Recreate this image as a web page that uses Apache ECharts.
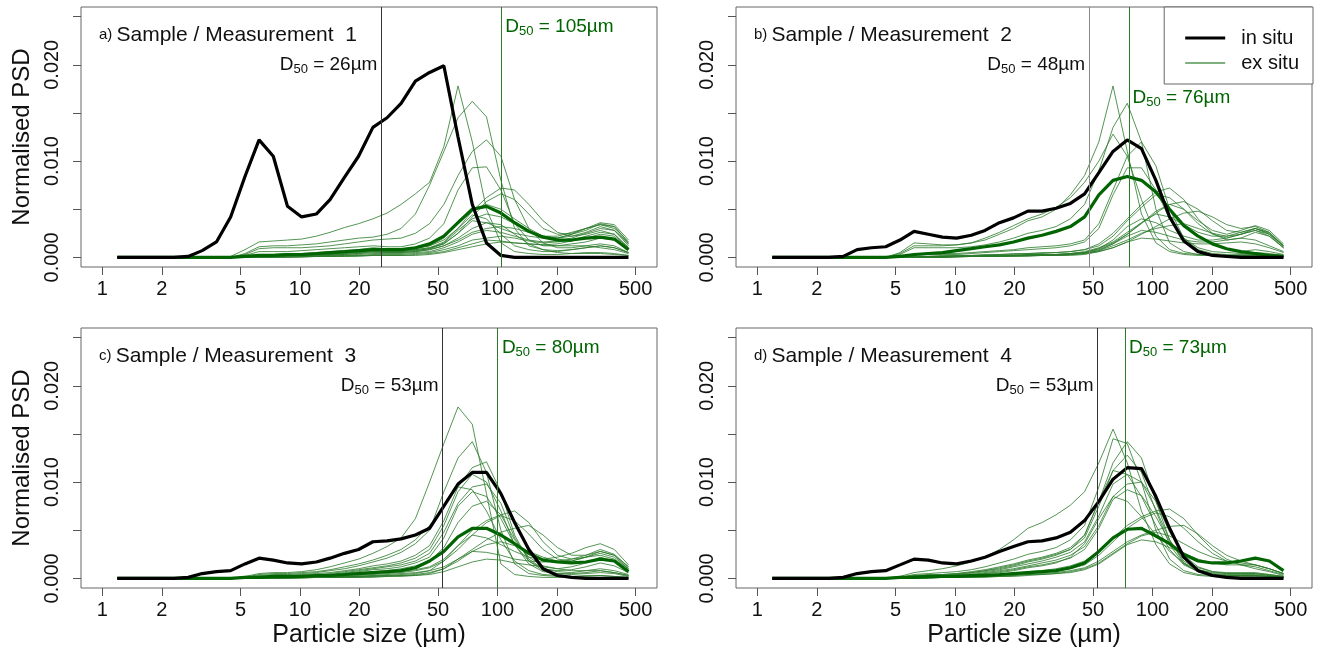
<!DOCTYPE html>
<html>
<head>
<meta charset="utf-8">
<title>Normalised PSD - in situ vs ex situ</title>
<script src="https://cdn.jsdelivr.net/npm/echarts@6.0.0/dist/echarts.min.js"></script>
<style>
  html, body { margin: 0; padding: 0; background: #fff; }
  #chart { width: 1319px; height: 652px; }
</style>
</head>
<body>
<div id="chart"></div>
<script>
// particle size bins (µm), log spaced
const sizes = [1.19, 1.40, 1.65, 1.95, 2.30, 2.72, 3.20, 3.78, 4.46, 5.27, 6.21, 7.33, 8.65, 10.2, 12.1, 14.2, 16.8, 19.8, 23.4,
  27.6, 32.5, 38.4, 45.3, 53.5, 63.1, 74.5, 87.9, 104, 122, 144, 170, 201, 237, 280, 331, 390, 460];

const xTicks = [1, 2, 5, 10, 20, 50, 100, 200, 500];
const yTicks = [0, 0.005, 0.01, 0.015, 0.02, 0.025];
const yLabels = [0, 0.01, 0.02];

// PSD values below are in units of 1e-4
const inSituA = [0,0,0,0,0,1,7,16,42,84,122,105,53,42,45,60,83,105,135,145,160,183,192,199,125,55,15,2,0,0,0,0,0,0,0,0,0];
const meanA = [0,0,0,0,0,0,0,0,0,1,2,2,3,3,4,5,6,7,8,8,8,10,14,22,36,50,53,46,36,27,21,18,18,20,21,19,8];
const exSituA = [
  [0,0,0,0,0,0,0,0,1,8,16,17,18,19,22,26,31,35,40,46,55,66,78,115,178,120,50,15,6,4,3,3,4,5,5,4,2],
  [0,0,0,0,0,0,0,0,0,4,11,12,12,13,14,16,18,20,21,24,30,45,75,110,145,162,146,80,30,12,8,7,8,10,12,10,5],
  [0,0,0,0,0,0,0,0,0,3,9,10,10,10,11,12,14,16,18,19,20,25,35,55,85,110,122,105,60,30,15,10,10,12,14,12,5],
  [0,0,0,0,0,0,0,0,0,2,6,6,6,7,8,9,10,11,12,11,11,14,20,35,70,93,94,70,35,18,12,12,14,16,20,18,8],
  [0,0,0,0,0,0,0,0,0,1,3,3,4,4,5,6,7,8,10,9,9,10,12,18,30,48,62,72,70,55,38,26,22,24,28,24,10],
  [0,0,0,0,0,0,0,0,0,1,2,2,3,3,4,4,5,6,8,7,7,8,10,14,25,42,58,66,60,45,30,24,25,30,34,30,14],
  [0,0,0,0,0,0,0,0,0,0,1,2,2,3,3,4,5,6,9,8,8,9,12,20,38,50,55,50,40,30,22,20,22,26,32,28,12],
  [0,0,0,0,0,0,0,0,0,0,1,1,2,2,3,3,4,5,7,6,6,7,9,15,28,40,45,42,35,28,22,20,24,28,35,32,15],
  [0,0,0,0,0,0,0,0,0,0,1,1,1,2,2,3,4,5,6,6,6,7,9,14,25,38,36,30,25,22,20,20,24,30,36,34,18],
  [0,0,0,0,0,0,0,0,0,0,0,1,1,1,2,2,3,4,5,5,5,6,8,12,18,26,30,32,30,26,22,22,26,30,34,32,16],
  [0,0,0,0,0,0,0,0,0,0,0,1,1,1,1,2,2,3,4,4,4,5,6,10,16,24,28,26,22,18,16,17,20,25,30,28,14],
  [0,0,0,0,0,0,0,0,0,0,0,0,1,1,1,1,2,2,3,3,3,4,5,8,12,18,20,22,20,17,15,16,18,22,26,24,10],
  [0,0,0,0,0,0,0,0,0,0,0,0,0,1,1,1,1,2,2,2,2,3,4,6,10,14,18,17,15,14,13,14,17,20,24,22,10],
  [0,0,0,0,0,0,0,0,0,0,0,0,0,0,1,1,1,1,2,2,2,2,3,5,8,11,14,16,15,14,13,12,12,12,10,8,4],
  [0,0,0,0,0,0,0,0,0,0,0,1,1,2,2,3,3,4,6,5,5,6,8,12,20,30,36,34,24,14,8,5,4,4,4,3,2],
  [0,0,0,0,0,0,0,0,0,0,1,1,2,2,3,4,5,6,8,7,7,8,10,16,30,44,40,24,12,8,6,6,8,10,12,10,5]
];

const inSituB = [0,0,0,0,0,1,8,10,11,18,27,24,21,20,23,28,36,41,48,48,51,56,66,88,110,122,113,80,42,17,6,2,1,0,0,0,0];
const meanB = [0,0,0,0,0,0,0,0,0,1,3,4,5,7,9,11,13,16,20,23,27,32,42,65,80,84,80,68,50,33,22,14,9,6,4,2,1];
const exSituB = [
  [0,0,0,0,0,0,0,0,0,5,15,14,13,13,15,18,24,30,38,42,50,65,85,120,178,110,45,15,6,3,2,2,2,2,2,1,1],
  [0,0,0,0,0,0,0,0,0,3,10,10,10,10,11,13,16,20,25,28,32,40,55,90,135,160,120,50,15,6,3,2,2,3,3,2,1],
  [0,0,0,0,0,0,0,0,0,1,3,4,4,4,5,6,7,8,10,11,12,14,18,35,70,105,120,95,50,20,8,4,3,4,5,4,2],
  [0,0,0,0,0,0,0,0,0,1,2,3,3,3,4,5,6,7,8,9,10,12,16,30,65,93,93,70,40,20,10,6,5,6,8,6,3],
  [0,0,0,0,0,0,0,0,0,0,1,1,2,2,2,3,3,4,4,5,5,6,8,14,25,40,55,68,72,60,40,25,18,20,26,22,10],
  [0,0,0,0,0,0,0,0,0,0,1,1,1,2,2,2,3,3,4,4,5,6,8,12,22,38,52,65,62,50,35,24,20,24,30,26,12],
  [0,0,0,0,0,0,0,0,0,0,0,1,1,1,1,2,2,2,3,3,3,4,6,10,16,26,36,46,55,58,50,38,28,26,30,25,12],
  [0,0,0,0,0,0,0,0,0,0,0,1,1,1,1,2,2,2,3,3,3,4,5,9,15,24,35,48,55,50,38,28,24,28,33,28,14],
  [0,0,0,0,0,0,0,0,0,0,0,0,1,1,1,1,2,2,2,3,3,4,5,8,14,24,36,45,42,34,26,22,22,26,30,24,10],
  [0,0,0,0,0,0,0,0,0,0,0,0,1,1,1,1,2,2,2,2,3,3,5,9,18,32,40,36,28,22,18,18,20,24,28,22,10],
  [0,0,0,0,0,0,0,0,0,0,0,0,0,1,1,1,1,2,2,2,2,3,4,7,12,18,25,30,33,35,30,25,22,24,28,24,12],
  [0,0,0,0,0,0,0,0,0,0,0,0,0,1,1,1,1,1,2,2,2,3,4,7,14,22,28,26,22,18,16,16,18,20,18,12,6],
  [0,0,0,0,0,0,0,0,0,0,0,0,0,0,1,1,1,1,1,2,2,2,3,6,10,16,20,19,17,15,14,14,15,16,14,10,5],
  [0,0,0,0,0,0,0,0,0,0,0,0,0,1,1,1,1,2,2,2,2,3,4,6,10,16,24,32,40,46,48,42,34,30,32,26,12],
  [0,0,0,0,0,0,0,0,0,4,12,12,12,13,15,20,26,33,40,45,52,62,78,100,128,105,60,22,8,4,3,2,2,2,2,1,1]
];

const inSituC = [0,0,0,0,0,1,5,7,8,15,21,19,16,15,17,21,26,30,38,39,41,45,52,75,98,110,110,88,58,30,10,3,1,0,0,0,0];
const meanC = [0,0,0,0,0,0,0,0,0,1,1,2,2,2,3,3,4,5,6,7,8,11,18,28,43,52,52,45,36,26,19,17,16,17,20,18,7];
const exSituC = [
  [0,0,0,0,0,0,0,0,0,2,5,6,6,7,9,12,16,20,26,33,42,62,100,140,178,160,88,15,4,2,1,1,1,1,1,1,0],
  [0,0,0,0,0,0,0,0,0,1,3,4,4,5,6,8,10,13,17,21,27,36,50,90,125,142,110,50,15,5,3,2,2,2,3,2,1],
  [0,0,0,0,0,0,0,0,0,1,2,3,3,4,5,6,8,10,13,15,18,24,34,60,95,115,121,90,45,18,8,5,4,5,6,5,2],
  [0,0,0,0,0,0,0,0,0,1,2,2,3,3,4,5,7,9,11,13,16,21,30,55,90,108,100,70,35,15,7,5,5,6,8,6,3],
  [0,0,0,0,0,0,0,0,0,0,1,2,2,3,3,4,6,8,10,12,14,18,26,48,78,95,98,78,42,20,10,7,6,8,10,8,4],
  [0,0,0,0,0,0,0,0,0,0,1,1,2,2,3,4,5,7,9,10,12,16,22,42,75,90,85,62,35,18,10,8,9,12,16,13,6],
  [0,0,0,0,0,0,0,0,0,0,1,1,1,2,2,3,4,6,7,8,10,13,18,32,58,75,80,66,40,22,13,10,12,16,22,18,8],
  [0,0,0,0,0,0,0,0,0,0,0,1,1,1,2,2,3,4,5,6,7,9,12,20,34,50,60,66,70,58,38,24,20,24,30,25,12],
  [0,0,0,0,0,0,0,0,0,0,0,1,1,1,1,2,2,3,4,5,6,8,11,18,30,45,58,65,60,46,30,20,18,22,28,24,10],
  [0,0,0,0,0,0,0,0,0,0,0,0,1,1,1,1,2,2,3,4,5,6,8,12,20,30,40,48,52,55,45,32,24,24,28,24,12],
  [0,0,0,0,0,0,0,0,0,0,0,0,1,1,1,1,2,2,3,3,4,5,8,18,34,45,42,35,28,22,20,22,26,32,36,30,14],
  [0,0,0,0,0,0,0,0,0,0,0,0,0,1,1,1,1,2,2,3,3,4,6,10,18,28,35,38,34,28,22,18,18,22,26,22,10],
  [0,0,0,0,0,0,0,0,0,0,0,0,0,1,1,1,1,1,2,2,3,3,5,10,20,28,27,24,20,18,17,18,20,22,24,20,10],
  [0,0,0,0,0,0,0,0,0,0,0,0,0,0,1,1,1,1,1,2,2,3,4,7,12,17,20,19,16,14,12,10,8,8,8,6,3],
  [0,0,0,0,0,0,0,0,0,1,4,5,5,6,7,9,12,15,19,24,30,40,55,75,95,92,70,40,18,8,4,3,2,3,3,2,1]
];

const inSituD = [0,0,0,0,0,1,5,7,8,14,20,19,16,15,18,22,28,33,38,39,42,48,60,80,103,115,114,85,52,22,8,3,1,0,0,0,0];
const meanD = [0,0,0,0,0,0,0,0,0,1,1,2,2,2,3,3,4,5,6,7,8,11,16,28,42,51,52,44,36,25,18,16,16,18,21,18,8];
const exSituD = [
  [0,0,0,0,0,0,0,0,0,2,6,8,10,13,17,22,30,40,52,58,66,76,90,120,155,120,70,35,15,6,3,2,1,1,1,1,0],
  [0,0,0,0,0,0,0,0,0,1,4,5,6,7,9,12,16,20,25,28,32,40,55,95,145,140,100,50,20,8,4,3,2,2,2,1,1],
  [0,0,0,0,0,0,0,0,0,1,3,4,4,5,7,9,12,15,19,22,26,32,45,80,120,142,125,80,40,16,7,4,3,3,3,2,1],
  [0,0,0,0,0,0,0,0,0,1,3,3,4,5,6,8,11,14,18,21,25,30,42,75,112,128,110,70,35,15,7,4,3,3,3,2,1],
  [0,0,0,0,0,0,0,0,0,1,2,3,3,4,6,8,10,13,17,20,24,30,45,80,112,108,85,55,30,14,7,4,3,3,3,2,1],
  [0,0,0,0,0,0,0,0,0,0,2,2,3,4,5,7,9,12,15,18,22,27,38,65,98,108,100,72,40,18,9,5,4,4,4,3,1],
  [0,0,0,0,0,0,0,0,0,0,1,2,2,3,4,6,8,10,13,16,19,24,33,55,85,98,100,80,48,24,12,7,5,5,5,3,2],
  [0,0,0,0,0,0,0,0,0,0,1,1,2,3,4,5,7,9,12,14,17,21,30,52,82,92,86,64,38,20,11,7,6,6,6,4,2],
  [0,0,0,0,0,0,0,0,0,0,1,1,2,2,3,5,6,8,11,13,16,22,36,62,85,80,64,45,28,16,9,6,5,5,5,4,2],
  [0,0,0,0,0,0,0,0,0,0,1,1,1,2,2,3,4,5,7,8,10,13,18,28,42,55,64,70,72,62,45,30,20,14,10,7,3],
  [0,0,0,0,0,0,0,0,0,0,0,1,1,1,2,2,3,4,5,6,8,10,14,24,38,52,62,68,64,52,38,26,18,14,12,8,4],
  [0,0,0,0,0,0,0,0,0,0,0,1,1,1,1,2,2,3,4,5,6,8,11,18,28,38,45,50,54,55,46,34,24,18,14,10,5],
  [0,0,0,0,0,0,0,0,0,0,0,0,1,1,1,2,2,3,4,4,5,7,10,16,26,36,44,48,44,36,28,22,18,16,14,10,5],
  [0,0,0,0,0,0,0,0,0,0,0,0,1,1,1,1,2,2,3,4,5,6,9,15,25,35,40,38,32,26,20,16,14,14,14,10,5]
];

const panelTags = ['a)', 'b)', 'c)', 'd)'];
const panelTitles = ['Sample / Measurement  1', 'Sample / Measurement  2', 'Sample / Measurement  3', 'Sample / Measurement  4'];
const d50InSitu = [26, 48, 53, 53];
const d50ExSitu = [105, 76, 80, 73];
// where the green D50 line actually sits in the figure (panel c is drawn near 100)
const d50ExSituLine = [105, 76, 101, 73];

const inSitu = [inSituA, inSituB, inSituC, inSituD];
const means = [meanA, meanB, meanC, meanD];
const exSitu = [exSituA, exSituB, exSituC, exSituD];

// layout
const panels = [
  { left: 81, top: 7, labelY: 0.0239, inSituLine: '#333' },
  { left: 736, top: 7, labelY: 0.0166, inSituLine: '#888' },
  { left: 81, top: 328, labelY: 0.0239, inSituLine: '#333' },
  { left: 736, top: 328, labelY: 0.0239, inSituLine: '#333' }
];
const PW = 576, PH = 260;
const FONT = '"Liberation Sans", Arial, Helvetica, sans-serif';
const GREEN = '#006400';
const THIN = '#2a7a2a';
const INK = '#111';

const log = Math.log10;
const pts = vals => vals.map((v, i) => [log(sizes[i]), v / 1e4]);

const d50Rich = color => ({
  d: { fontSize: 19, lineHeight: 22, color: color, fontFamily: FONT },
  s: { fontSize: 13, lineHeight: 13, verticalAlign: 'bottom', color: color, fontFamily: FONT }
});

const grids = [], xAxes = [], yAxes = [], series = [], titles = [];

panels.forEach((p, k) => {
  grids.push({
    left: p.left, top: p.top, width: PW, height: PH,
    show: true, borderColor: '#666', borderWidth: 1, backgroundColor: 'transparent'
  });

  xAxes.push({
    type: 'value', gridIndex: k, min: -0.108, max: 2.807,
    axisLine: { show: false, onZero: false },
    axisTick: { show: true, length: 8, customValues: xTicks.map(log), lineStyle: { color: '#555' } },
    axisLabel: {
      customValues: xTicks.map(log),
      formatter: v => String(Math.round(Math.pow(10, v))),
      margin: 12, fontSize: 20, color: INK, fontFamily: FONT
    },
    splitLine: { show: false },
    name: k >= 2 ? 'Particle size (µm)' : '',
    nameLocation: 'middle', nameGap: 35,
    nameTextStyle: { fontSize: 25, color: INK, fontFamily: FONT }
  });

  yAxes.push({
    type: 'value', gridIndex: k, min: -0.001, max: 0.026,
    axisLine: { show: false, onZero: false },
    axisTick: { show: true, length: 8, customValues: yTicks, lineStyle: { color: '#555' } },
    axisLabel: {
      customValues: yLabels, rotate: 90,
      formatter: v => v.toFixed(3),
      margin: 19, fontSize: 20, color: INK, fontFamily: FONT
    },
    splitLine: { show: false },
    name: k % 2 === 0 ? 'Normalised PSD' : '',
    nameLocation: 'middle', nameRotate: 90, nameGap: 47,
    nameTextStyle: { fontSize: 24, color: INK, fontFamily: FONT }
  });

  titles.push({
    text: '{t|' + panelTags[k] + ' }{m|' + panelTitles[k] + '}',
    left: p.left + 18, top: p.top + 16, padding: 0,
    textStyle: {
      fontWeight: 'normal',
      rich: {
        t: { fontSize: 15, lineHeight: 24, fontWeight: 'normal', color: INK, fontFamily: FONT },
        m: { fontSize: 21, lineHeight: 24, fontWeight: 'normal', color: INK, fontFamily: FONT }
      }
    }
  });

  exSitu[k].forEach(vals => {
    series.push({
      type: 'line', name: 'ex situ', xAxisIndex: k, yAxisIndex: k,
      data: pts(vals), showSymbol: false, symbol: 'none', silent: true, z: 2,
      itemStyle: { color: THIN },
      lineStyle: { color: THIN, width: 1, opacity: 0.8 }
    });
  });

  series.push({
    type: 'line', name: 'ex situ mean', xAxisIndex: k, yAxisIndex: k,
    data: pts(means[k]), showSymbol: false, symbol: 'none', silent: true, z: 3,
    itemStyle: { color: GREEN },
    lineStyle: { color: GREEN, width: 3.2 }
  });

  series.push({
    type: 'line', name: 'in situ', xAxisIndex: k, yAxisIndex: k,
    data: pts(inSitu[k]), showSymbol: false, symbol: 'none', silent: true, z: 4,
    itemStyle: { color: '#000' },
    lineStyle: { color: '#000', width: 3.2 },
    markLine: {
      silent: true, symbol: ['none', 'none'], label: { show: false },
      lineStyle: { type: 'solid', width: 1 },
      data: [
        { xAxis: log(d50InSitu[k]), lineStyle: { color: p.inSituLine, type: 'solid', width: 1 } },
        { xAxis: log(d50ExSituLine[k]), lineStyle: { color: '#2a7a2a', type: 'solid', width: 1 } }
      ]
    },
    markPoint: {
      silent: true, symbol: 'circle', symbolSize: 1,
      itemStyle: { color: 'transparent' },
      data: [
        {
          coord: [log(d50InSitu[k]), 0.020],
          label: {
            show: true, position: 'left', distance: 4,
            formatter: '{d|D}{s|50}{d| = ' + d50InSitu[k] + 'µm}',
            rich: d50Rich(INK)
          }
        },
        {
          coord: [log(d50ExSituLine[k]), p.labelY],
          label: {
            show: true, position: 'right', distance: 3,
            formatter: '{d|D}{s|50}{d| = ' + d50ExSitu[k] + 'µm}',
            rich: d50Rich(GREEN)
          }
        }
      ]
    }
  });
});

const chart = echarts.init(document.getElementById('chart'));
chart.setOption({
  animation: false,
  backgroundColor: '#fff',
  textStyle: { fontFamily: FONT },
  title: titles,
  grid: grids,
  xAxis: xAxes,
  yAxis: yAxes,
  legend: {
    show: true, orient: 'vertical', right: 6, top: 7,
    data: [
      { name: 'in situ', icon: 'path://M0,0H40V3H0Z', itemStyle: { color: '#000' } },
      { name: 'ex situ', icon: 'path://M0,0H40V1H0Z', itemStyle: { color: GREEN } }
    ],
    itemWidth: 40, itemHeight: 14, itemGap: 5,
    padding: [21, 14, 11, 21],
    borderColor: '#666', borderWidth: 1, backgroundColor: '#fff',
    selectedMode: false,
    textStyle: { fontSize: 20, color: INK, fontFamily: FONT, padding: [0, 0, 0, 11] }
  },
  series: series
});
</script>
</body>
</html>
